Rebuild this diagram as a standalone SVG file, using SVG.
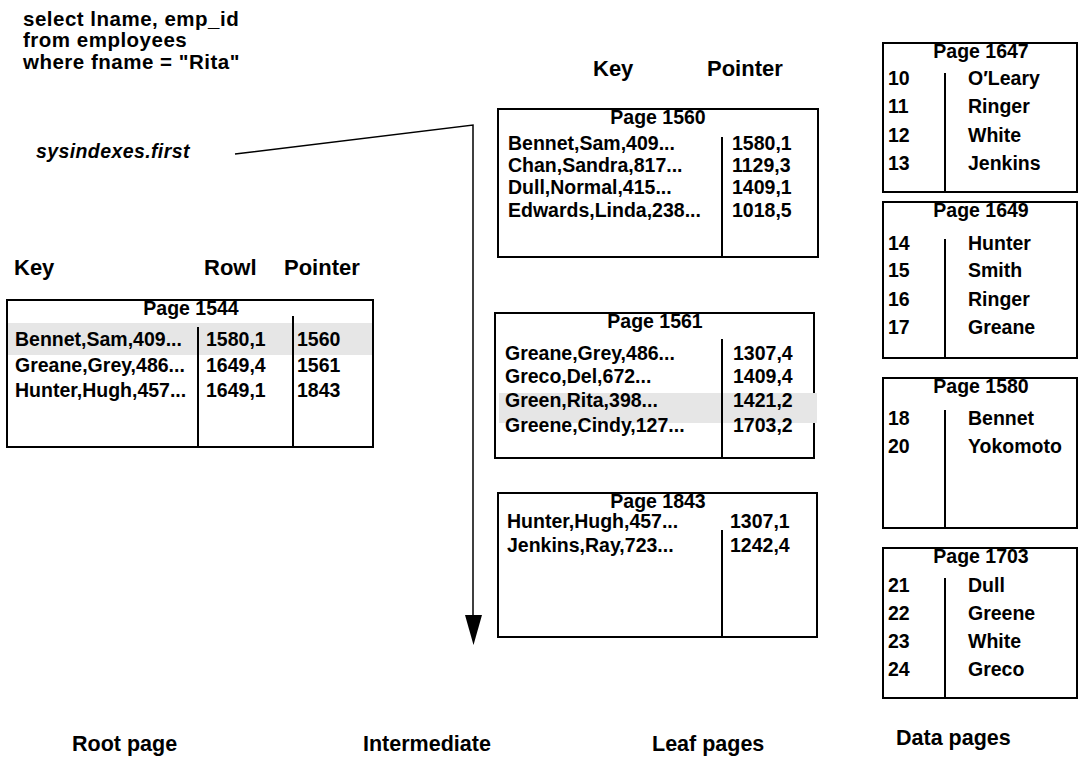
<svg xmlns="http://www.w3.org/2000/svg" width="1081" height="759" viewBox="0 0 1081 759">
<style>
text{font-family:"Liberation Sans",Arial,sans-serif;font-weight:bold;font-size:19.5px;fill:#000}
.box{fill:#fff;stroke:#000;stroke-width:2}
.div{stroke:#000;stroke-width:2}
.hl{fill:#e6e6e6}
.ttl{text-anchor:middle}
.q{font-size:20.5px;letter-spacing:0.5px}
.hd{font-size:22px}
.lbl{font-size:21.5px}
</style>
<g id="query">
<text class="q" x="23" y="26">select lname, emp_id</text>
<text class="q" x="23" y="47">from employees</text>
<text class="q" x="23" y="69">where fname = "Rita"</text>
</g>
<g id="sysindexes">
<text x="36" y="158" font-style="italic" font-size="22.5" letter-spacing="0.4">sysindexes.first</text>
</g>
<g id="connectors">
<polyline points="235,154 473,125 473,615" fill="none" stroke="#000" stroke-width="1.5"/>
<path d="M465,615 L482,615 L473.5,645 Z" fill="#000"/>
</g>
<g id="root-page">
<text class="hd" x="14" y="275">Key</text>
<text class="hd" x="204" y="275">Rowl</text>
<text class="hd" x="284" y="275">Pointer</text>
<rect class="box" x="7" y="300" width="366" height="147"/>
<rect class="hl" x="8" y="323" width="364" height="32"/>
<line class="div" x1="198" y1="327" x2="198" y2="447"/>
<line class="div" x1="293" y1="316" x2="293" y2="447"/>
<text class="ttl" x="191" y="315">Page 1544</text>
<text x="15" y="346">Bennet,Sam,409...</text>
<text x="206" y="346">1580,1</text>
<text x="297" y="346">1560</text>
<text x="15" y="372">Greane,Grey,486...</text>
<text x="206" y="372">1649,4</text>
<text x="297" y="372">1561</text>
<text x="15" y="397">Hunter,Hugh,457...</text>
<text x="206" y="397">1649,1</text>
<text x="297" y="397">1843</text>
</g>
<g id="leaf-header">
<text class="hd" x="593" y="76">Key</text>
<text class="hd" x="707" y="76">Pointer</text>
</g>
<g id="leaf-1560">
<rect class="box" x="498" y="109" width="320" height="148"/>
<line class="div" x1="722" y1="137" x2="722" y2="257"/>
<text class="ttl" x="658" y="124">Page 1560</text>
<text x="508" y="150">Bennet,Sam,409...</text>
<text x="732" y="150">1580,1</text>
<text x="508" y="172">Chan,Sandra,817...</text>
<text x="732" y="172">1129,3</text>
<text x="508" y="194">Dull,Normal,415...</text>
<text x="732" y="194">1409,1</text>
<text x="508" y="217">Edwards,Linda,238...</text>
<text x="732" y="217">1018,5</text>
</g>
<g id="leaf-1561">
<rect class="box" x="495" y="313" width="319" height="145"/>
<rect class="hl" x="499" y="393" width="318" height="30"/>
<line class="div" x1="722" y1="339" x2="722" y2="458"/>
<text class="ttl" x="655" y="328">Page 1561</text>
<text x="505" y="360">Greane,Grey,486...</text>
<text x="733" y="360">1307,4</text>
<text x="505" y="383">Greco,Del,672...</text>
<text x="733" y="383">1409,4</text>
<text x="505" y="407">Green,Rita,398...</text>
<text x="733" y="407">1421,2</text>
<text x="505" y="432">Greene,Cindy,127...</text>
<text x="733" y="432">1703,2</text>
</g>
<g id="leaf-1843">
<rect class="box" x="498" y="493" width="319" height="144"/>
<line class="div" x1="722" y1="530" x2="722" y2="637"/>
<text class="ttl" x="658" y="508">Page 1843</text>
<text x="507" y="528">Hunter,Hugh,457...</text>
<text x="730" y="528">1307,1</text>
<text x="507" y="552">Jenkins,Ray,723...</text>
<text x="730" y="552">1242,4</text>
</g>
<g id="data-1647">
<rect class="box" x="883" y="43" width="194" height="149"/>
<line class="div" x1="945" y1="73" x2="945" y2="192"/>
<text class="ttl" x="981" y="58">Page 1647</text>
<text x="888" y="85">10</text><text x="968" y="85">O′Leary</text>
<text x="888" y="113">11</text><text x="968" y="113">Ringer</text>
<text x="888" y="142">12</text><text x="968" y="142">White</text>
<text x="888" y="170">13</text><text x="968" y="170">Jenkins</text>
</g>
<g id="data-1649">
<rect class="box" x="883" y="202" width="194" height="156"/>
<line class="div" x1="945" y1="239" x2="945" y2="358"/>
<text class="ttl" x="981" y="217">Page 1649</text>
<text x="888" y="250">14</text><text x="968" y="250">Hunter</text>
<text x="888" y="277">15</text><text x="968" y="277">Smith</text>
<text x="888" y="306">16</text><text x="968" y="306">Ringer</text>
<text x="888" y="334">17</text><text x="968" y="334">Greane</text>
</g>
<g id="data-1580">
<rect class="box" x="883" y="378" width="194" height="150"/>
<line class="div" x1="945" y1="410" x2="945" y2="528"/>
<text class="ttl" x="981" y="393">Page 1580</text>
<text x="888" y="425">18</text><text x="968" y="425">Bennet</text>
<text x="888" y="453">20</text><text x="968" y="453">Yokomoto</text>
</g>
<g id="data-1703">
<rect class="box" x="883" y="548" width="194" height="150"/>
<line class="div" x1="945" y1="578" x2="945" y2="698"/>
<text class="ttl" x="981" y="563">Page 1703</text>
<text x="888" y="592">21</text><text x="968" y="592">Dull</text>
<text x="888" y="620">22</text><text x="968" y="620">Greene</text>
<text x="888" y="648">23</text><text x="968" y="648">White</text>
<text x="888" y="676">24</text><text x="968" y="676">Greco</text>
</g>
<g id="labels">
<text class="lbl" x="72" y="751">Root page</text>
<text class="lbl" x="363" y="751">Intermediate</text>
<text class="lbl" x="652" y="751">Leaf pages</text>
<text class="lbl" x="896" y="745">Data pages</text>
</g>
</svg>
